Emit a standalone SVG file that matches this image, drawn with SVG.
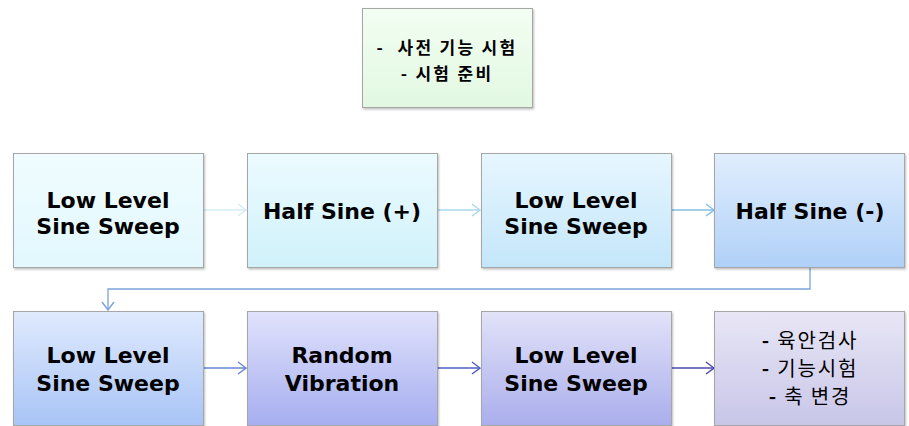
<svg xmlns="http://www.w3.org/2000/svg" width="909" height="426" viewBox="0 0 909 426">
<style>
.box{stroke:#a6a6a6;stroke-width:1;filter:url(#sh)}
.t{font-family:"DejaVu Sans",Verdana,sans-serif;font-weight:bold;font-size:22px;fill:#000;text-anchor:middle}
.k{font-family:"Noto Sans CJK KR",sans-serif;fill:#000;text-anchor:middle}
.c{fill:none;stroke-width:1.3}
</style>
<defs>
<filter id="sh" x="-5%" y="-5%" width="112%" height="115%">
<feDropShadow dx="1" dy="1.5" stdDeviation="1" flood-color="#000" flood-opacity="0.25"/>
</filter>
<linearGradient id="g0" x1="0" y1="0" x2="0" y2="1"><stop offset="0" stop-color="#f2fef2"/><stop offset="1" stop-color="#e2f8e2"/></linearGradient>
<linearGradient id="g1" x1="0" y1="0" x2="0" y2="1"><stop offset="0" stop-color="#f0fcff"/><stop offset="1" stop-color="#e2f8fd"/></linearGradient>
<linearGradient id="g2" x1="0" y1="0" x2="0" y2="1"><stop offset="0" stop-color="#ecfbff"/><stop offset="1" stop-color="#d0f1fa"/></linearGradient>
<linearGradient id="g3" x1="0" y1="0" x2="0" y2="1"><stop offset="0" stop-color="#e6f6ff"/><stop offset="1" stop-color="#c4e6fa"/></linearGradient>
<linearGradient id="g4" x1="0" y1="0" x2="0" y2="1"><stop offset="0" stop-color="#e0eefd"/><stop offset="1" stop-color="#b0d0f8"/></linearGradient>
<linearGradient id="g5" x1="0" y1="0" x2="0" y2="1"><stop offset="0" stop-color="#e0eafd"/><stop offset="1" stop-color="#a8c4f6"/></linearGradient>
<linearGradient id="g6" x1="0" y1="0" x2="0" y2="1"><stop offset="0" stop-color="#e0e2fb"/><stop offset="1" stop-color="#a6aef0"/></linearGradient>
<linearGradient id="g7" x1="0" y1="0" x2="0" y2="1"><stop offset="0" stop-color="#e2e2f8"/><stop offset="1" stop-color="#aaaeec"/></linearGradient>
<linearGradient id="g8" x1="0" y1="0" x2="0" y2="1"><stop offset="0" stop-color="#e8e6f5"/><stop offset="1" stop-color="#c8c6e8"/></linearGradient>
<marker id="a1" viewBox="0 0 10 14" refX="9" refY="7" markerWidth="10" markerHeight="14" markerUnits="userSpaceOnUse" orient="auto"><path d="M1,1 L9,7 L1,13" fill="none" stroke="#d4edf3" stroke-width="1.4"/></marker>
<marker id="a2" viewBox="0 0 10 14" refX="9" refY="7" markerWidth="10" markerHeight="14" markerUnits="userSpaceOnUse" orient="auto"><path d="M1,1 L9,7 L1,13" fill="none" stroke="#a8d8e8" stroke-width="1.4"/></marker>
<marker id="a3" viewBox="0 0 10 14" refX="9" refY="7" markerWidth="10" markerHeight="14" markerUnits="userSpaceOnUse" orient="auto"><path d="M1,1 L9,7 L1,13" fill="none" stroke="#84bce2" stroke-width="1.4"/></marker>
<marker id="a4" viewBox="0 0 10 14" refX="9" refY="7" markerWidth="10" markerHeight="14" markerUnits="userSpaceOnUse" orient="auto"><path d="M1,1 L9,7 L1,13" fill="none" stroke="#7aa2dc" stroke-width="1.4"/></marker>
<marker id="a5" viewBox="0 0 10 14" refX="9" refY="7" markerWidth="10" markerHeight="14" markerUnits="userSpaceOnUse" orient="auto"><path d="M1,1 L9,7 L1,13" fill="none" stroke="#6586d6" stroke-width="1.4"/></marker>
<marker id="a6" viewBox="0 0 10 14" refX="9" refY="7" markerWidth="10" markerHeight="14" markerUnits="userSpaceOnUse" orient="auto"><path d="M1,1 L9,7 L1,13" fill="none" stroke="#4c5ec6" stroke-width="1.4"/></marker>
<marker id="a7" viewBox="0 0 10 14" refX="9" refY="7" markerWidth="10" markerHeight="14" markerUnits="userSpaceOnUse" orient="auto"><path d="M1,1 L9,7 L1,13" fill="none" stroke="#4848b2" stroke-width="1.4"/></marker>
</defs>
<rect width="909" height="426" fill="#fff"/>
<g id="connectors">
<path class="c" d="M203,210 H246" stroke="#d4edf3" marker-end="url(#a1)"/>
<path class="c" d="M437,210 H480" stroke="#a8d8e8" marker-end="url(#a2)"/>
<path class="c" d="M671,210 H714" stroke="#84bce2" marker-end="url(#a3)"/>
<path class="c" d="M810,268 V289 H108 V310" stroke="#7aa2dc" marker-end="url(#a4)"/>
<path class="c" d="M203,368 H246" stroke="#6586d6" marker-end="url(#a5)"/>
<path class="c" d="M437,368 H480" stroke="#4c5ec6" marker-end="url(#a6)"/>
<path class="c" d="M671,368 H714" stroke="#4848b2" marker-end="url(#a7)"/>
</g>
<g id="prep">
<rect class="box" x="362.5" y="8.5" width="170" height="99" fill="url(#g0)"/>
<text class="k" x="447" y="54" font-size="17" font-weight="bold" letter-spacing="2.3" xml:space="preserve">-  사전 기능 시험</text>
<text class="k" x="447" y="80" font-size="17" font-weight="bold" letter-spacing="2.3">- 시험 준비</text>
</g>
<g id="n1">
<rect class="box" x="13.5" y="153.5" width="190" height="114" fill="url(#g1)"/>
<text class="t" x="108" y="208">Low Level</text>
<text class="t" x="108" y="234">Sine Sweep</text>
</g>
<g id="n2">
<rect class="box" x="247.5" y="153.5" width="190" height="114" fill="url(#g2)"/>
<text class="t" x="342" y="219">Half Sine (+)</text>
</g>
<g id="n3">
<rect class="box" x="481.5" y="153.5" width="190" height="114" fill="url(#g3)"/>
<text class="t" x="576" y="208">Low Level</text>
<text class="t" x="576" y="234">Sine Sweep</text>
</g>
<g id="n4">
<rect class="box" x="714.5" y="153.5" width="190" height="114" fill="url(#g4)"/>
<text class="t" x="810" y="219">Half Sine (-)</text>
</g>
<g id="n5">
<rect class="box" x="13.5" y="311.5" width="190" height="114" fill="url(#g5)"/>
<text class="t" x="108" y="363">Low Level</text>
<text class="t" x="108" y="391">Sine Sweep</text>
</g>
<g id="n6">
<rect class="box" x="247.5" y="311.5" width="190" height="114" fill="url(#g6)"/>
<text class="t" x="342" y="363">Random</text>
<text class="t" x="342" y="391">Vibration</text>
</g>
<g id="n7">
<rect class="box" x="481.5" y="311.5" width="190" height="114" fill="url(#g7)"/>
<text class="t" x="576" y="363">Low Level</text>
<text class="t" x="576" y="391">Sine Sweep</text>
</g>
<g id="n8">
<rect class="box" x="714.5" y="311.5" width="190" height="114" fill="url(#g8)"/>
<text class="k" x="810" y="348" font-size="20" letter-spacing="1.8"><tspan font-weight="bold">-</tspan> 육안검사</text>
<text class="k" x="810" y="376" font-size="20" letter-spacing="1.8"><tspan font-weight="bold">-</tspan> 기능시험</text>
<text class="k" x="810" y="404" font-size="20" letter-spacing="1.8"><tspan font-weight="bold">-</tspan> 축 변경</text>
</g>
</svg>
